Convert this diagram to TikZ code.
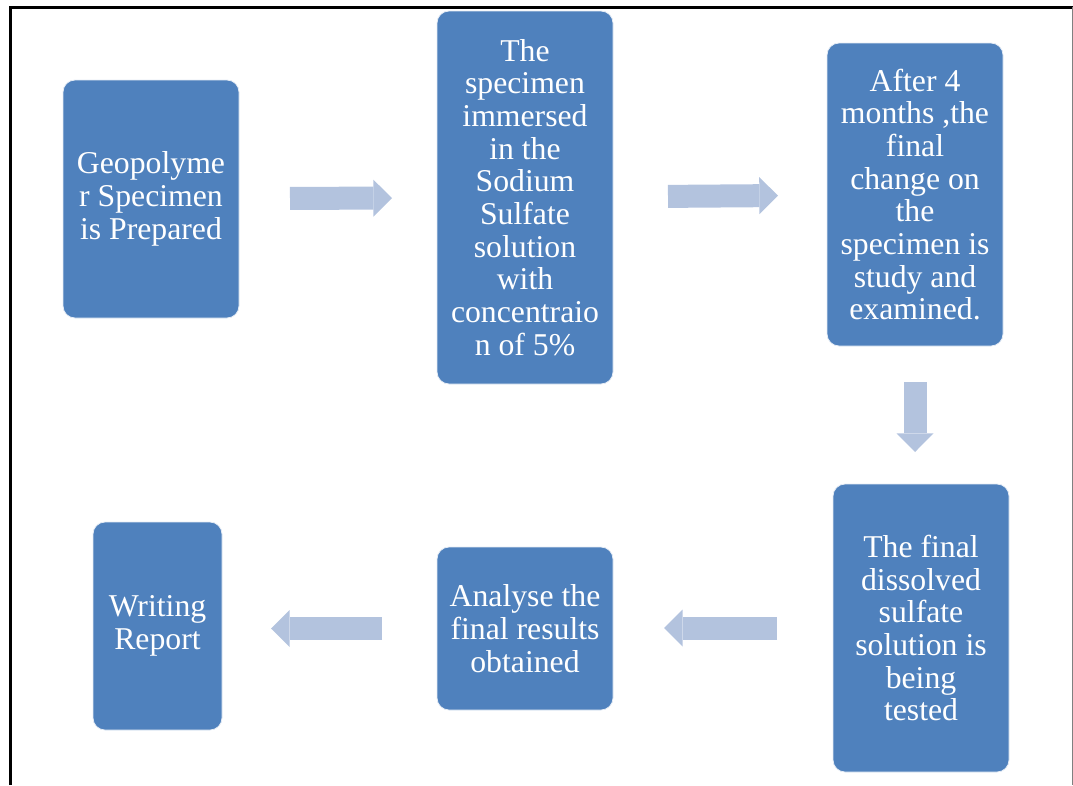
\documentclass[tikz,border=0pt]{standalone}
\usepackage{fontspec}
\setmainfont{LiberationSerif}[Extension=.ttf,UprightFont=*-Regular,BoldFont=*-Bold]
\usetikzlibrary{arrows.meta}
\definecolor{boxblue}{HTML}{4F81BD}
\definecolor{arrowblue}{HTML}{B3C3DE}
\tikzset{
  box/.style={
    rectangle,
    rounded corners=9pt,
    minimum width=132pt,
    inner sep=0pt,
    outer sep=0pt,
    align=center,
    text=white,
    font=\rmfamily\fontsize{23.8pt}{24.5pt}\selectfont,
  fill=boxblue,
  draw=white!85!boxblue,
  line width=0.6pt
  },
  flow/.style={
    draw=arrowblue,
    line width=17.25pt,
    -{Triangle[length=14pt,width=27.75pt,line width=0pt,fill=arrowblue]}
  }
}

\begin{document}
\begin{tikzpicture}[x=0.75pt,y=-0.75pt]
    \useasboundingbox (0,0) rectangle (1073,785);
    \draw[line width=2.25pt] (10.5,785) -- (10.5,7) -- (1073,7);
    \draw[gray,line width=0.75pt] (1072,7) -- (1072,785);
    \node[box,minimum height=178.5pt] (prep) at (151,199)
      {Geopolyme\\r Specimen\\is Prepared};
    \node[box,minimum height=279.75pt] (immerse) at (525,197.5)
      {The\\specimen\\immersed\\in the\\Sodium\\Sulfate\\solution\\with\\concentraio\\n of 5\%};
    \node[box,minimum height=227.25pt] (examine) at (915,194.5)
      {After 4\\months ,the\\final\\change on\\the\\specimen is\\study and\\examined.};
    \node[box,minimum height=216pt] (test) at (921,628)
      {The final\\dissolved\\sulfate\\solution is\\being\\tested};
    \node[box,minimum height=122.25pt] (analyse) at (525,628.5)
      {Analyse the\\final results\\obtained};
    \node[box,minimum width=96.75pt,minimum height=156pt] (report) at (157.5,626)
      {Writing\\Report};
    \draw[flow,shorten <=38.25pt,shorten >=33.75pt] (prep) -- (immerse);
    \draw[flow,shorten <=41.25pt,shorten >=36.75pt] (immerse) -- (examine);
    \draw[flow,shorten <=27pt,shorten >=24pt] (examine.south) -- (examine.south |- test.north);
    \draw[flow,shorten <=42pt,shorten >=38.25pt] (test.west) -- (test.west -| analyse.east);
    \draw[flow,shorten <=41.25pt,shorten >=36.75pt] (analyse.west) -- (analyse.west -| report.east);
\end{tikzpicture}
\end{document}
